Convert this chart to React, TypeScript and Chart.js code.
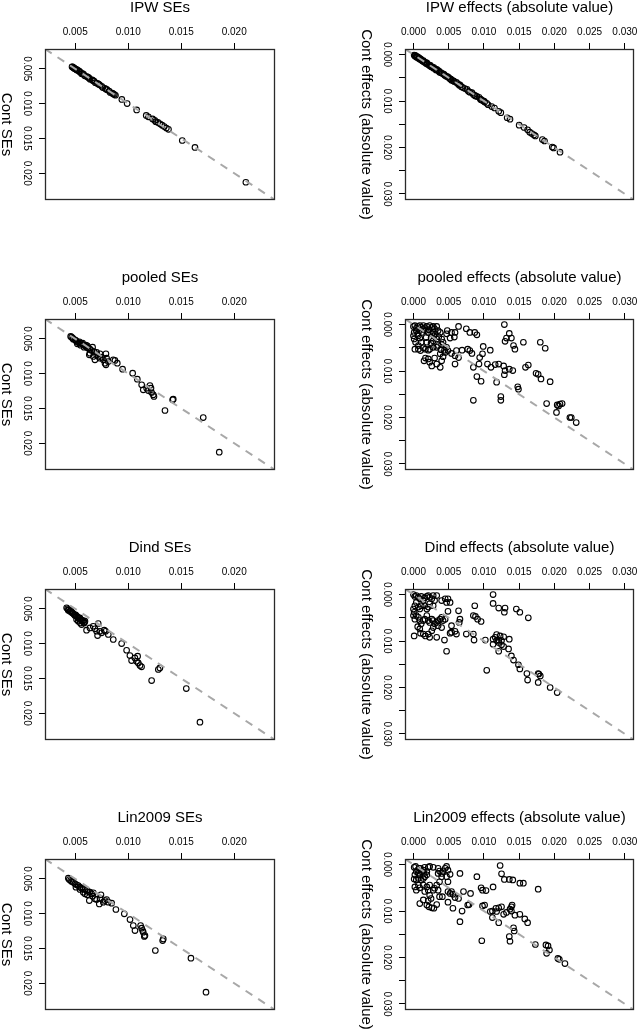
import React, { useEffect, useRef } from "react";
import { Chart, registerables } from "chart.js";

Chart.register(...registerables);

// ---------- data ----------
const ipwSE = [0.0047,0.0048,0.0049,0.005,0.0051,0.0052,0.00535,0.0055,0.0056,0.0058,0.0059,0.0061,0.0063,0.0064,0.0066,0.0068,0.0069,0.0071,0.0073,0.0075,0.0076,0.0078,0.008,0.0082,0.0083,0.0085,0.0087,0.0088,0.0094,0.0099,0.0108,0.0117,0.0119,0.0123,0.0125,0.0126,0.0128,0.013,0.0132,0.0134,0.0136,0.0138,0.0151,0.0163,0.0211,0.00475,0.00495,0.00515,0.0054,0.0057,0.0062,0.0067,0.0072,0.0079,0.0086];
const contSeIpw = [0.0047,0.0048,0.0049,0.005,0.0051,0.0052,0.0053,0.0055,0.0057,0.0058,0.006,0.0061,0.0063,0.0065,0.0066,0.0068,0.007,0.0071,0.0073,0.0075,0.0077,0.0078,0.008,0.0082,0.0084,0.0085,0.0087,0.0088,0.0094,0.01,0.0109,0.0117,0.0119,0.0122,0.0124,0.0126,0.0127,0.0129,0.0131,0.0133,0.0135,0.0137,0.0153,0.0163,0.0213,0.00472,0.00497,0.00512,0.0054,0.0057,0.0062,0.0067,0.0072,0.0079,0.0086];

const ipwEff = [0.0001,0.0002,0.0003,0.0004,0.0005,0.0006,0.0007,0.0008,0.0009,0.0011,0.0012,0.0014,0.0015,0.0017,0.0019,0.002,0.0022,0.0024,0.0025,0.0027,0.0029,0.0031,0.0032,0.0034,0.0036,0.0037,0.0039,0.0041,0.0043,0.0045,0.0047,0.0049,0.0051,0.0053,0.0054,0.0056,0.0058,0.0061,0.0063,0.0066,0.0068,0.007,0.0073,0.0076,0.0078,0.008,0.0083,0.0085,0.0087,0.009,0.0093,0.0095,0.0098,0.0101,0.0104,0.0106,0.0111,0.0115,0.0121,0.0124,0.0133,0.0137,0.015,0.0157,0.0162,0.0165,0.0168,0.0171,0.0173,0.0183,0.0186,0.0197,0.0199,0.0208,0.0002,0.0004,0.001,0.0013,0.0018,0.0023,0.0028,0.0033,0.0044,0.0052,0.0057,0.0065,0.0088,0.0096,0.01];
const contEffIpw = [0.0001,0.0003,0.0002,0.0004,0.0006,0.0005,0.0008,0.0007,0.001,0.0011,0.0013,0.0013,0.0016,0.0017,0.0018,0.0021,0.0022,0.0023,0.0026,0.0027,0.0028,0.0031,0.0033,0.0034,0.0035,0.0038,0.0039,0.0041,0.0042,0.0045,0.0047,0.0048,0.0051,0.0053,0.0055,0.0056,0.0058,0.006,0.0063,0.0065,0.0069,0.0071,0.0073,0.0075,0.0079,0.0081,0.0082,0.0086,0.0088,0.009,0.0092,0.0096,0.0099,0.0102,0.0105,0.0108,0.0112,0.0115,0.0122,0.0125,0.0136,0.0139,0.0152,0.0157,0.0162,0.0167,0.017,0.0173,0.0175,0.0183,0.0186,0.0199,0.0201,0.021,0.0002,0.0005,0.0009,0.0014,0.0019,0.0024,0.0029,0.0032,0.0044,0.0052,0.0057,0.0066,0.0089,0.0097,0.01];

const pooledSE = [0.00466,0.00482,0.00498,0.00513,0.00529,0.00545,0.00561,0.00576,0.00592,0.00608,0.00623,0.00639,0.00655,0.00639,0.00633,0.00686,0.00671,0.00702,0.00718,0.00734,0.00749,0.00765,0.0079,0.00796,0.00781,0.0079,0.00812,0.00859,0.00875,0.00897,0.00947,0.01042,0.01086,0.01127,0.01142,0.01174,0.01205,0.01215,0.0119,0.01221,0.01237,0.01243,0.01419,0.01425,0.01347,0.01708,0.01859,0.00457,0.00476,0.00507,0.00539,0.0057,0.00601,0.00614,0.00583,0.00551,0.0052,0.00664,0.00677,0.00702,0.00734];
const contSePooled = [0.00476,0.00505,0.00514,0.00538,0.00553,0.00562,0.00572,0.00586,0.006,0.0062,0.00634,0.00648,0.00668,0.00706,0.0073,0.00802,0.00754,0.0073,0.00754,0.00778,0.00763,0.00802,0.00716,0.00778,0.0085,0.00874,0.00826,0.00802,0.00811,0.0085,0.00936,0.00993,0.0108,0.01161,0.01233,0.01209,0.01171,0.01209,0.01243,0.01271,0.01305,0.01329,0.01377,0.01367,0.0153,0.01631,0.02129,0.00466,0.0049,0.00524,0.00543,0.00562,0.00591,0.006,0.0062,0.00591,0.00572,0.0062,0.00682,0.00696,0.00716];

const pooledEff = [0,0.0002,0.0006,0.0009,0.0011,0.0014,0.0016,0.0019,0.0023,0.0026,0.0028,0.0033,0.003,0.0035,0.0038,0.0028,0.0026,0.0025,0.0028,0.0033,0.0036,0.0029,0.0021,0.0017,0.0012,0.0009,0.0004,0.0001,0,0.0001,0.0003,0.0007,0.0002,0.0007,0.001,0.0014,0.0017,0.0021,0.0023,0.0028,0.0033,0.0035,0.004,0.0039,0.0044,0.0047,0.0048,0.0047,0.0054,0.0059,0.0064,0.0058,0.0052,0.004,0.0042,0.0011,0.0009,0.0007,0.0019,0.0025,0.0015,0.0017,0.0021,0.0023,0.0026,0.003,0.0033,0.0038,0.004,0.0042,0.0038,0.0045,0.0049,0.0054,0.0061,0.0059,0.0064,0.0059,0.0069,0.0077,0.008,0.0083,0.0075,0.008,0.0087,0.009,0.0099,0.0098,0.0094,0.0109,0.0085,0.0093,0.0105,0.011,0.0116,0.0121,0.0128,0.013,0.0129,0.0136,0.0141,0.009,0.0096,0.0118,0.0085,0.0124,0.0124,0.0148,0.0149,0.0159,0.0163,0.0174,0.0177,0.0181,0.0194,0.0129,0.0136,0.0139,0.0132,0.013,0.0142,0.0144,0.0156,0.018,0.0187,0.0189,0.0204,0.0206,0.0208,0.0211,0.0203,0.0222,0.0224,0.0231,0.0004,0.0013,0.0022,0.0031,0.0006,0.0018];
const contEffPooled = [0.0004,0.0002,0.0004,0.0002,0.0006,0.0002,0.0007,0.0004,0.0002,0.0006,0.0004,0.0004,0.0009,0.0013,0.0017,0.0017,0.002,0.0029,0.0035,0.0031,0.0026,0.0024,0.0017,0.0013,0.0017,0.0013,0.0013,0.0017,0.0024,0.0031,0.0038,0.0045,0.0053,0.0053,0.0056,0.005,0.0053,0.0055,0.0053,0.0049,0.0049,0.0045,0.0043,0.0054,0.0055,0.0049,0.0013,0.002,0.0017,0.0017,0.0004,0.0027,0.0029,0.0031,0.0038,0.0038,0.0029,0.0024,0.0038,0.004,0.0078,0.0072,0.0074,0.0081,0.0089,0.0072,0.0085,0.0092,0.0078,0.0069,0.0063,0.006,0.0056,0.0062,0.0056,0.0067,0.0071,0.0085,0.0055,0.0053,0.0056,0.0062,0.0009,0.0017,0.0017,0.0022,0.0047,0.0063,0.0071,0.0055,0.0092,0.0085,0.0085,0.0092,0.0086,0.0085,0.0089,0.0099,0.0108,0.0096,0.0099,0.0112,0.0122,0.0124,0.0163,0.0155,0.0163,0.0134,0.0139,0.0092,0.0087,0.0105,0.0107,0.0117,0.0123,0,0.0019,0.0029,0.0029,0.0036,0.0045,0.0053,0.0038,0.0038,0.0051,0.017,0.0173,0.0175,0.0171,0.017,0.0189,0.02,0.02,0.0211,0.0008,0.0009,0.0011,0.0021,0.0021,0.0028];

const dindSE = [0.00419,0.00428,0.00434,0.00441,0.0045,0.00459,0.00466,0.00472,0.00481,0.00491,0.00497,0.00504,0.00513,0.00522,0.00529,0.00538,0.00544,0.00554,0.0056,0.00566,0.00576,0.00585,0.00592,0.00529,0.00513,0.00548,0.0056,0.00585,0.00607,0.00639,0.0067,0.00686,0.00702,0.00711,0.00733,0.00749,0.00774,0.00787,0.00812,0.00717,0.00859,0.00938,0.00985,0.01016,0.01032,0.01063,0.01089,0.01079,0.01095,0.01111,0.01126,0.01284,0.01299,0.01221,0.01548,0.01677];
const contSeDind = [0.00486,0.005,0.0052,0.0051,0.00534,0.00524,0.00548,0.00558,0.00568,0.00582,0.00596,0.00587,0.00606,0.00616,0.0063,0.00644,0.0063,0.00654,0.00663,0.00678,0.00668,0.00692,0.00678,0.00678,0.00654,0.00702,0.00726,0.00702,0.00807,0.00774,0.0075,0.00788,0.00822,0.00884,0.00822,0.00845,0.00807,0.00822,0.00869,0.00711,0.00941,0.00999,0.01095,0.01171,0.01243,0.01205,0.01181,0.01253,0.01277,0.01315,0.01334,0.01372,0.01349,0.01531,0.01646,0.02129];

const dindEff = [0,0.0002,0.0004,0.0007,0.0009,0.0011,0.0014,0.0016,0.0019,0.0021,0.0023,0.0026,0.0028,0.0033,0.003,0.0028,0.0023,0.0021,0.0019,0.0016,0.0011,0.0009,0.0007,0.0004,0.0002,0,0.0001,0,0.0002,0.0004,0.0007,0.0009,0.0006,0.0009,0.0011,0.0014,0.0016,0.0019,0.0021,0.0023,0.0026,0.0028,0.003,0.0033,0.0035,0.0038,0.004,0.0042,0.0045,0.004,0.0035,0.0028,0.0026,0.0021,0.0017,0.0014,0.001,0.0001,0.0023,0.0033,0.004,0.0045,0.0049,0.0047,0.0052,0.0064,0.0066,0.0065,0.0049,0.0054,0.0052,0.0054,0.0061,0.0059,0.0044,0.0047,0.0075,0.0085,0.0086,0.0087,0.0085,0.0088,0.0091,0.0096,0.0102,0.0104,0.0113,0.0113,0.0121,0.013,0.0129,0.0146,0.0151,0.0163,0.0118,0.0123,0.0121,0.0128,0.0125,0.0116,0.0113,0.0121,0.0125,0.0128,0.0121,0.0136,0.0135,0.0139,0.0142,0.0149,0.0151,0.0161,0.0162,0.0177,0.0178,0.018,0.0177,0.0194,0.0204,0.0113,0.0118];
const contEffDind = [0,0.0004,0.0002,0.0006,0.0009,0.0004,0.0013,0.0007,0.0004,0.0002,0.0006,0.0009,0.0002,0.0002,0.0013,0.0024,0.002,0.0027,0.0031,0.0024,0.0024,0.0031,0.0027,0.0017,0.0024,0.0031,0.0038,0.0045,0.0053,0.0045,0.0049,0.0056,0.0069,0.0074,0.0063,0.0056,0.0053,0.0045,0.0056,0.006,0.0053,0.0056,0.0063,0.006,0.0056,0.0053,0.0049,0.0056,0.0053,0.0071,0.0067,0.0071,0.0078,0.0085,0.0089,0.0085,0.0083,0.0089,0.0092,0.0092,0.0013,0.0009,0.0009,0.0017,0.0017,0.0035,0.0053,0.006,0.0036,0.0067,0.0083,0.0081,0.0085,0.0079,0.0098,0.0122,0.0085,0.0085,0.0098,0.0024,0.0045,0.0047,0.0053,0.0058,0.0098,0.0163,0,0.0019,0.0029,0.0029,0.0038,0.0031,0.0038,0.005,0.0086,0.0089,0.0098,0.0091,0.0099,0.0092,0.0107,0.0103,0.0108,0.0112,0.0122,0.0096,0.0117,0.0132,0.0141,0.0151,0.016,0.017,0.0184,0.017,0.0171,0.0175,0.0189,0.02,0.0211,0.0096,0.0099];

const linSE = [0.00435,0.00444,0.00457,0.00466,0.00482,0.00498,0.00513,0.00529,0.00545,0.00561,0.00576,0.00592,0.00608,0.00623,0.00639,0.00655,0.00671,0.00507,0.00545,0.00576,0.00614,0.00664,0.00592,0.00633,0.00686,0.00702,0.00734,0.00743,0.00727,0.00765,0.00781,0.00796,0.00812,0.00844,0.00884,0.00963,0.01017,0.01048,0.01064,0.01117,0.01127,0.01136,0.01142,0.01158,0.01152,0.01325,0.01331,0.01256,0.01592,0.01734];
const contSeLin = [0.00491,0.0051,0.00524,0.00538,0.00548,0.00572,0.00586,0.00596,0.0062,0.00634,0.00644,0.00653,0.00668,0.00682,0.00692,0.00716,0.00701,0.0062,0.00653,0.00692,0.0073,0.00749,0.00716,0.00812,0.00788,0.00797,0.00778,0.0073,0.0086,0.00836,0.00812,0.00797,0.00836,0.0085,0.00941,0.01003,0.01085,0.01171,0.01243,0.01171,0.01209,0.01243,0.01267,0.01315,0.01329,0.01387,0.01363,0.0153,0.0164,0.02129];

const linEff = [0.0001,0.0003,0.0006,0.0008,0.0004,0.0007,0.0009,0.0011,0.001,0.0014,0.0002,0.0001,0.0004,0.0007,0.0011,0.0014,0.0016,0.0019,0.0015,0.0019,0.0016,0.0021,0.0023,0.0028,0.0035,0.0037,0.004,0.0042,0.0045,0.0047,0.0049,0.0052,0.0047,0.0035,0.004,0.0049,0.0037,0.0033,0.003,0.0035,0.0028,0.0023,0.0021,0.0019,0.0014,0.0009,0.0004,0.0002,0.0007,0.0016,0.0023,0.0025,0.0021,0.0014,0.0009,0.0019,0.0022,0.0026,0.0029,0.0033,0.0037,0.0041,0.0049,0.0052,0.0054,0.0056,0.0059,0.0049,0.0064,0.0056,0.0066,0.0071,0.0069,0.0066,0.0077,0.0079,0.0081,0.009,0.0096,0.0098,0.0103,0.0113,0.0098,0.0101,0.0097,0.0109,0.0112,0.0117,0.0121,0.0118,0.0125,0.0112,0.0121,0.0128,0.0132,0.0137,0.0139,0.014,0.0139,0.0144,0.0151,0.0158,0.0162,0.0142,0.0143,0.0136,0.0137,0.0123,0.0125,0.0129,0.0136,0.0141,0.0151,0.0156,0.0177,0.0173,0.0188,0.0191,0.0193,0.0189,0.0205,0.0207,0.0215];
const contEffLin = [0.0006,0.0004,0.0012,0.0008,0.0015,0.0019,0.0022,0.0015,0.0008,0.0012,0.0022,0.0031,0.0033,0.003,0.0033,0.003,0.0026,0.0022,0.0019,0.0015,0.0006,0.0006,0.0004,0.0006,0.0008,0.0014,0.0019,0.0015,0.0008,0.0004,0.0012,0.0021,0.0026,0.0019,0.0026,0.0037,0.0037,0.0044,0.0051,0.0055,0.0055,0.0044,0.0055,0.0048,0.0044,0.005,0.0055,0.0048,0.0044,0.0058,0.0066,0.0073,0.0078,0.0076,0.0084,0.0087,0.0091,0.0093,0.0094,0.0086,0.0069,0.0069,0.0058,0.0062,0.0058,0.0064,0.0071,0.0081,0.0073,0.0094,0.0019,0.0058,0.01,0.0123,0.0087,0.0086,0.0062,0.0026,0.005,0.0055,0.0056,0.0048,0.0089,0.0087,0.0164,0.0101,0.01,0.0094,0.0093,0.0101,0.0091,0.0114,0.0125,0.0107,0.0103,0.0096,0.0091,0.0087,0.01,0.0109,0.0107,0.0117,0.0125,0.0136,0.0143,0.0155,0.0165,0.0002,0.002,0.0032,0.0032,0.0033,0.004,0.004,0.0053,0.0172,0.0173,0.0175,0.0184,0.0191,0.0202,0.0204,0.0213];

// axis limits (shared by x and y in each column)
const seLimits = [0.00215, 0.02385];
const effLimits = [-0.0012, 0.0313];
const tickStep = 0.005;

const titles = [
  "IPW SEs", "IPW effects (absolute value)",
  "pooled SEs", "pooled effects (absolute value)",
  "Dind SEs", "Dind effects (absolute value)",
  "Lin2009 SEs", "Lin2009 effects (absolute value)",
];
const yLabels = ["Cont SEs", "Cont effects (absolute value)"];

const FONT = '"Liberation Sans", Arial, Helvetica, sans-serif';

type Spec = {
  title: string;
  ylab: string;
  xs: number[];
  ys: number[];
  lim: number[];
  col: number;
  row: number;
};

const seriesX = [ipwSE, ipwEff, pooledSE, pooledEff, dindSE, dindEff, linSE, linEff];
const seriesY = [contSeIpw, contEffIpw, contSePooled, contEffPooled, contSeDind, contEffDind, contSeLin, contEffLin];

const specs: Spec[] = titles.map((t, i) => ({
  title: t,
  ylab: yLabels[i % 2],
  xs: seriesX[i],
  ys: seriesY[i],
  lim: i % 2 === 0 ? seLimits : effLimits,
  col: i % 2,
  row: Math.floor(i / 2),
}));

const COL_LEFT = [0, 318];
const COL_WIDTH = [318, 320];
const AXIS_LEFT = [45, 87];
const PAD_RIGHT = [43, 4];
const ROW_H = 270;

function Panel({ spec }: { spec: Spec }) {
  const ref = useRef<HTMLCanvasElement | null>(null);

  useEffect(() => {
    if (!ref.current) return;
    const [lo, hi] = spec.lim;
    const sparseY = spec.col === 1;
    const decor = {
      id: "decor",
      afterDraw(chart: any) {
        const { ctx, chartArea: a, scales } = chart;
        ctx.save();
        // box
        ctx.strokeStyle = "#2a2a2a";
        ctx.lineWidth = 1.3;
        ctx.strokeRect(a.left + 0.5, a.top + 0.5, a.right - a.left - 1, a.bottom - a.top - 1);
        ctx.fillStyle = "#000";
        // title
        ctx.font = `15px ${FONT}`;
        ctx.textAlign = "center";
        ctx.textBaseline = "alphabetic";
        ctx.fillText(spec.title, (a.left + a.right) / 2, a.top - 37.5);
        // y tick labels (rotated)
        ctx.font = `10px ${FONT}`;
        for (const t of scales.y.ticks) {
          const v = t.value;
          if (sparseY && Math.round(v * 1000) % 10 !== 0) continue;
          const py = scales.y.getPixelForValue(v);
          ctx.save();
          ctx.translate(a.left - 18.5, py);
          ctx.rotate(Math.PI / 2);
          ctx.textAlign = "center";
          ctx.textBaseline = "middle";
          ctx.fillText(v.toFixed(3), 0, 0);
          ctx.restore();
        }
        // y axis title
        ctx.font = `15px ${FONT}`;
        ctx.save();
        ctx.translate(a.left - 43, (a.top + a.bottom) / 2);
        ctx.rotate(Math.PI / 2);
        ctx.textAlign = "center";
        ctx.textBaseline = "alphabetic";
        ctx.fillText(spec.ylab, 0, 0);
        ctx.restore();
        ctx.restore();
      },
    };

    const chart = new Chart(ref.current, {
      type: "scatter",
      data: {
        datasets: [
          {
            type: "line",
            data: [
              { x: lo, y: lo },
              { x: hi, y: hi },
            ],
            borderColor: "#a8a8a8",
            borderWidth: 2,
            borderDash: [8, 7],
            pointRadius: 0,
            fill: false,
            tension: 0,
          } as any,
          {
            data: spec.xs.map((x, i) => ({ x, y: spec.ys[i] })),
            pointRadius: 2.8,
            pointHoverRadius: 2.8,
            pointBorderWidth: 1.1,
            pointBorderColor: "#000",
            pointBackgroundColor: "rgba(0,0,0,0)",
            borderColor: "#000",
            backgroundColor: "rgba(0,0,0,0)",
          },
        ],
      },
      options: {
        responsive: false,
        animation: false,
        events: [],
        layout: { padding: { left: 0, top: 0, right: PAD_RIGHT[spec.col], bottom: 70 } },
        plugins: {
          legend: { display: false },
          tooltip: { enabled: false },
          title: { display: false },
        },
        scales: {
          x: {
            type: "linear",
            position: "top",
            min: lo,
            max: hi,
            ticks: {
              stepSize: tickStep,
              includeBounds: false,
              autoSkip: false,
              maxRotation: 0,
              minRotation: 0,
              padding: 5,
              color: "#000",
              font: { family: FONT, size: 10 },
              callback: (v: any) => Number(v).toFixed(3),
            },
            grid: { drawOnChartArea: false, drawTicks: true, tickLength: 6, color: "#000", lineWidth: 1 },
            border: { display: false },
            afterFit: (s: any) => {
              s.height = 49;
              s.paddingLeft = 0;
              s.paddingRight = 0;
            },
          },
          y: {
            type: "linear",
            position: "left",
            reverse: true,
            min: lo,
            max: hi,
            ticks: { stepSize: tickStep, includeBounds: false, autoSkip: false, display: false },
            grid: { drawOnChartArea: false, drawTicks: true, tickLength: 6, color: "#000", lineWidth: 1 },
            border: { display: false },
            afterFit: (s: any) => {
              s.width = AXIS_LEFT[spec.col];
              s.paddingTop = 0;
              s.paddingBottom = 0;
            },
          },
        },
      } as any,
      plugins: [decor as any],
    });
    return () => chart.destroy();
  }, [spec]);

  return (
    <canvas
      ref={ref}
      width={COL_WIDTH[spec.col]}
      height={ROW_H}
      style={{
        position: "absolute",
        left: COL_LEFT[spec.col],
        top: spec.row * ROW_H,
        width: COL_WIDTH[spec.col],
        height: ROW_H,
      }}
    />
  );
}

export default function App() {
  useEffect(() => {
    document.body.style.margin = "0";
    document.body.style.background = "#fff";
  }, []);
  return (
    <div style={{ position: "absolute", left: 0, top: 0, width: 638, height: 1029, background: "#fff", overflow: "hidden" }}>
      {specs.map((s, i) => (
        <Panel key={i} spec={s} />
      ))}
    </div>
  );
}
